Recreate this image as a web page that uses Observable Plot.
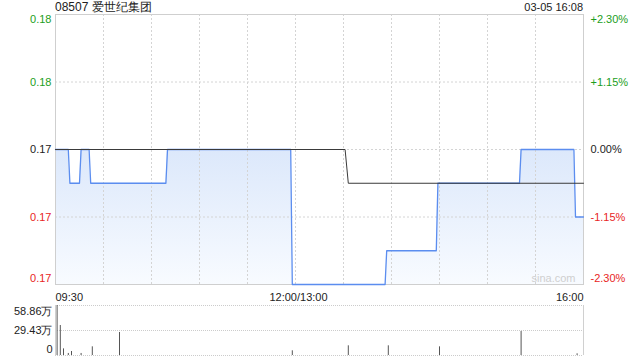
<!DOCTYPE html>
<html><head><meta charset="utf-8">
<script src="https://cdn.jsdelivr.net/npm/d3@7"></script>
<script src="https://cdn.jsdelivr.net/npm/@observablehq/plot@0.6"></script>
<style>
body{margin:0;background:#fff;}
#wrap{position:relative;width:640px;height:360px;font-family:"Liberation Sans",Arial,sans-serif;overflow:hidden;background:#fff}
#title{position:absolute;left:55px;top:0px;font-size:12px;color:#222;line-height:14px;white-space:nowrap}
#date{position:absolute;right:57px;top:1px;font-size:11px;color:#222;line-height:13px;white-space:nowrap}
#wrap svg{position:absolute;left:0}
</style></head><body>
<div id="wrap"><div id="title"></div><div id="date"></div></div>
<script>
const stockName = "08507 爱世纪集团";
const stamp = "03-05 16:08";
const prevClose = 0.174;
const priceTicks = [0.178, 0.176, 0.174, 0.172, 0.170];
const priceTickLabels = ["0.18", "0.18", "0.17", "0.17", "0.17"];
const pctTickLabels = ["+2.30%", "+1.15%", "0.00%", "-1.15%", "-2.30%"];
const timeTicks = ["09:30", "12:00", "16:00"];
const timeTickLabels = ["09:30", "12:00/13:00", "16:00"];
const gridTimes = ["10:00", "10:30", "11:00", "11:30", "12:00", "13:30", "14:00", "14:30", "15:00", "15:30"];
const priceTimes = ["09:30", "09:38", "09:39", "09:45", "09:46", "09:51", "09:52", "10:39", "10:40", "11:57", "11:58", "13:56", "13:57", "14:28", "14:29", "15:20", "15:21", "15:54", "15:55", "16:00"];
const priceValues = [0.174, 0.174, 0.173, 0.173, 0.174, 0.174, 0.173, 0.173, 0.174, 0.174, 0.170, 0.170, 0.171, 0.171, 0.173, 0.173, 0.174, 0.174, 0.172, 0.172];
const avgTimes = ["09:30", "13:31", "13:33", "16:00"];
const avgValues = [0.174, 0.174, 0.173, 0.173];
const volTimes = ["09:31", "09:33", "09:35", "09:38", "09:40", "09:46", "09:53", "10:10", "11:58", "13:33", "13:58", "14:30", "15:21", "15:56"];
const volValues = [58.86, 35.3, 7.8, 2.4, 4.7, 2.4, 10.2, 27.1, 5.5, 11.4, 11.4, 10.2, 28.3, 2.0];
const volTicks = [58.86, 29.43, 0];
const volTickLabels = ["58.86万", "29.43万", "0"];

document.getElementById("title").textContent = stockName;
document.getElementById("date").textContent = stamp;

function toIdx(t) {
  const [h, m] = t.split(":").map(Number);
  const v = h * 60 + m;
  return v <= 720 ? v - 570 : v - 780 + 150;
}
const GREEN = "#1c9e1c", RED = "#e82525", DARK = "#222";
const colorOf = v => v > prevClose + 1e-9 ? GREEN : (v < prevClose - 1e-9 ? RED : DARK);

const price = priceTimes.map((t, i) => ({x: toIdx(t), y: priceValues[i]}));
const avg = avgTimes.map((t, i) => ({x: toIdx(t), y: avgValues[i]}));
const ticks = priceTicks.map((v, i) => ({v, i, label: priceTickLabels[i], pct: pctTickLabels[i], color: colorOf(v)}));
const last = ticks.length - 1;
const xt = timeTicks.map((t, i) => ({x: toIdx(t), label: timeTickLabels[i], i}));
const FONT = "Liberation Sans, Arial, sans-serif";

function yLabels(subset, dy) {
  return [
    Plot.text(subset, {x: () => 0, y: "v", text: "label", fill: "color", textAnchor: "end", dx: -4, dy, fontSize: 11}),
    Plot.text(subset, {x: () => 330, y: "v", text: "pct", fill: "color", textAnchor: "start", dx: 7, dy, fontSize: 11})
  ];
}

const main = Plot.plot({
  width: 640, height: 300,
  marginTop: 14, marginBottom: 16, marginLeft: 55, marginRight: 57,
  x: {domain: [0, 330], axis: null},
  y: {domain: [0.170, 0.178], axis: null},
  color: {type: "identity"},
  style: {fontFamily: FONT, background: "transparent", overflow: "visible"},
  marks: [
    Plot.areaY(price, {x: "x", y1: () => 0.170, y2: "y", fill: "url(#pg)"}),
    Plot.ruleX(gridTimes.map(toIdx), {stroke: "#d4d4d4", strokeDasharray: "2,2"}),
    Plot.ruleY(priceTicks.slice(1, -1), {stroke: "#d4d4d4", strokeDasharray: "2,2"}),
    Plot.frame({stroke: "#cfcfcf"}),
    Plot.text(["sina.com"], {x: () => 330, y: () => 0.170, text: d => d, fill: "#cfcfcf", textAnchor: "end", dx: -8, dy: -6, fontSize: 11}),
    Plot.line(price, {x: "x", y: "y", stroke: "#5b8def", strokeWidth: 1.3}),
    Plot.line(avg, {x: "x", y: "y", stroke: "#3a3a3a", strokeWidth: 1}),
    ...yLabels(ticks.filter(d => d.i === 0), 5),
    ...yLabels(ticks.filter(d => d.i > 0 && d.i < last), 0),
    ...yLabels(ticks.filter(d => d.i === last), -6),
    Plot.text(xt.filter(d => d.i === 0), {x: "x", y: () => 0.170, text: "label", fill: DARK, textAnchor: "start", dy: 9, fontSize: 11, lineAnchor: "top"}),
    Plot.text(xt.filter(d => d.i === 1), {x: "x", y: () => 0.170, text: "label", fill: DARK, textAnchor: "middle", dx: 3, dy: 9, fontSize: 11, lineAnchor: "top"}),
    Plot.text(xt.filter(d => d.i === 2), {x: "x", y: () => 0.170, text: "label", fill: DARK, textAnchor: "end", dy: 9, fontSize: 11, lineAnchor: "top"})
  ]
});
const ns = "http://www.w3.org/2000/svg";
const defs = document.createElementNS(ns, "defs");
defs.innerHTML = '<linearGradient id="pg" x1="0" y1="0" x2="0" y2="1"><stop offset="0" stop-color="#dce8fb"/><stop offset="1" stop-color="#f8fbff"/></linearGradient>';
main.insertBefore(defs, main.firstChild);
main.style.top = "0px";
document.getElementById("wrap").appendChild(main);

const vol = volTimes.map((t, i) => ({x: toIdx(t), v: volValues[i]}));
const vt = volTicks.map((v, i) => ({v, i, label: volTickLabels[i]}));
const volPlot = Plot.plot({
  width: 640, height: 60,
  marginTop: 5, marginBottom: 5, marginLeft: 55, marginRight: 57,
  x: {domain: [0, 330], axis: null},
  y: {domain: [0, 58.86], axis: null},
  style: {fontFamily: FONT, background: "transparent", overflow: "visible"},
  marks: [
    Plot.ruleY(volTicks, {stroke: "#cccccc", strokeDasharray: "1,1"}),
    Plot.ruleX([0, 330], {stroke: "#d0d0d0"}),
    Plot.ruleX(vol, {x: "x", y1: () => 0, y2: "v", stroke: "#555", strokeWidth: 1}),
    Plot.text(vt.filter(d => d.i === 0), {x: () => 0, y: "v", text: "label", fill: DARK, textAnchor: "end", dx: -3, dy: 6, fontSize: 11}),
    Plot.text(vt.filter(d => d.i === 1), {x: () => 0, y: "v", text: "label", fill: DARK, textAnchor: "end", dx: -3, dy: 0, fontSize: 11}),
    Plot.text(vt.filter(d => d.i === 2), {x: () => 0, y: "v", text: "label", fill: DARK, textAnchor: "end", dx: -3, dy: -6, fontSize: 11})
  ]
});
volPlot.style.top = "300px";
document.getElementById("wrap").appendChild(volPlot);
</script>
</body></html>
